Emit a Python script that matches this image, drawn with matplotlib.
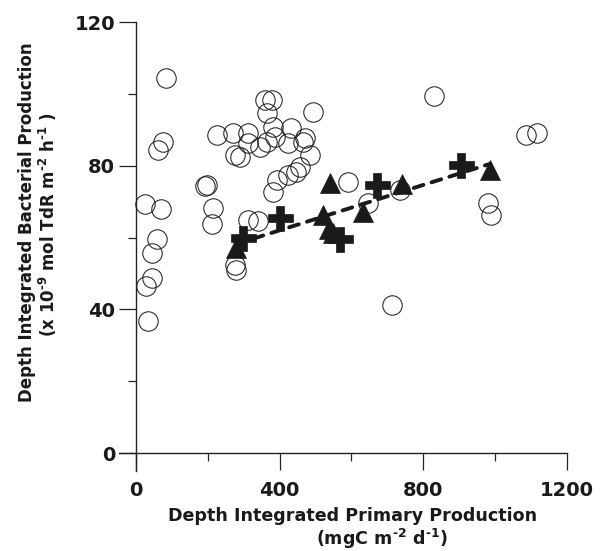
import numpy as np
import matplotlib
matplotlib.use("Agg")
import matplotlib.pyplot as plt

# ---- data ----
circle_x = [85, 76, 62, 25, 70, 58, 45, 45, 27, 34,
            359, 378, 364, 494, 225, 271, 313, 382, 433, 471, 466, 387, 364,
            313, 345, 424, 276, 290, 484, 457, 447, 424, 392, 382, 197, 192,
            215, 211, 313, 341, 276, 280, 591, 735, 647, 830, 712, 981, 988,
            1086, 1117]
circle_y = [104.3, 86.7, 84.4, 69.3, 67.9, 59.6, 55.8, 48.6, 46.5, 36.8,
            98.3, 98.3, 94.7, 95.0, 88.5, 89.0, 89.0, 90.8, 90.4, 87.6, 86.7, 88.1, 86.7,
            86.2, 85.3, 86.2, 83.0, 82.3, 83.0, 79.7, 78.3, 77.4, 76.0, 72.7, 74.6, 74.3,
            68.1, 63.9, 64.9, 64.6, 52.3, 50.9, 75.5, 73.2, 69.5, 99.3, 41.2, 69.5, 66.3,
            88.5, 89.2]

tri_x = [278, 521, 538, 548, 540, 633, 742, 986]
tri_y = [57.2, 66.3, 62.5, 61.3, 75.1, 67.2, 74.8, 78.8]

plus_x = [297, 401, 567, 671, 905]
plus_y = [60.0, 65.3, 59.5, 74.5, 80.2]

xticks_major = [0, 400, 800, 1200]
xticks_minor = [200, 600, 1000]
yticks_major = [0, 40, 80, 120]
yticks_minor = [20, 60, 100]

# ---- figure ----
plt.rcParams['font.family'] = ['DejaVu Sans']
fig = plt.figure(figsize=(6.02, 5.51), dpi=100)
ax = fig.add_axes([119/602, 80/551, 448/602, 449/551])

ax.plot(circle_x, circle_y, linestyle='none', marker='o', ms=14,
        mfc='none', mec='#222222', mew=0.75, clip_on=False, zorder=2)
ax.plot(tri_x, tri_y, linestyle='none', marker='^', ms=15,
        mfc='#1a1a1a', mec='#1a1a1a', mew=0.5, clip_on=False, zorder=3)
ax.plot(plus_x, plus_y, linestyle='none', marker='P', ms=18,
        mfc='#1a1a1a', mec='#1a1a1a', mew=0.5, clip_on=False, zorder=3)

# regression line through triangles and pluses
fx = np.array(tri_x + plus_x, dtype=float)
fy = np.array(tri_y + plus_y, dtype=float)
slope, intercept = np.polyfit(fx, fy, 1)
lx = np.array([fx.min(), fx.max()])
ax.plot(lx, slope * lx + intercept, color='#1a1a1a', lw=2.8,
        dashes=(2.6, 2.2), dash_capstyle='round', zorder=4)

ax.set_xlim(-47, 1200)
ax.set_ylim(-5, 120)
for s in ['top', 'right']:
    ax.spines[s].set_visible(False)
ax.spines['left'].set_position(('data', 0))
ax.spines['bottom'].set_position(('data', 0))
for s in ['left', 'bottom']:
    ax.spines[s].set_linewidth(1.0)
    ax.spines[s].set_color('#222222')

ax.set_xticks(xticks_major)
ax.set_xticks(xticks_minor, minor=True)
ax.set_yticks(yticks_major)
ax.set_yticks(yticks_minor, minor=True)
ax.tick_params(which='major', direction='out', length=12, width=0.9,
               color='#222222', labelsize=14, pad=8)
ax.tick_params(which='minor', direction='out', length=6, width=0.9,
               color='#222222')
ax.tick_params(axis='y', which='major', pad=3)
for lab in ax.get_xticklabels() + ax.get_yticklabels():
    lab.set_fontweight('bold')
    lab.set_color('#1a1a1a')

# axis labels as figure text
hy = '\u2010'
fig.text(353/602, 1 - 516/551, 'Depth Integrated Primary Production',
         ha='center', va='center', fontsize=12.6, fontweight='bold', color='#1a1a1a')
fig.text(382/602, 1 - 539/551,
         r'(mgC m$^{\mathbf{' + hy + r'2}}$ d$^{\mathbf{' + hy + r'1}}$)',
         ha='center', va='center', fontsize=12.6, fontweight='bold', color='#1a1a1a')
fig.text(27/602, 1 - 222/551, 'Depth Integrated Bacterial Production',
         ha='center', va='center', rotation=90, fontsize=12, fontweight='bold', color='#1a1a1a')
fig.text(48/602, 1 - 225/551,
         r'(x 10$^{\mathbf{' + hy + r'9}}$ mol TdR m$^{\mathbf{' + hy + r'2}}$ h$^{\mathbf{' + hy + r'1}}$ )',
         ha='center', va='center', rotation=90, fontsize=12, fontweight='bold', color='#1a1a1a')

fig.savefig('out.png', dpi=100)
